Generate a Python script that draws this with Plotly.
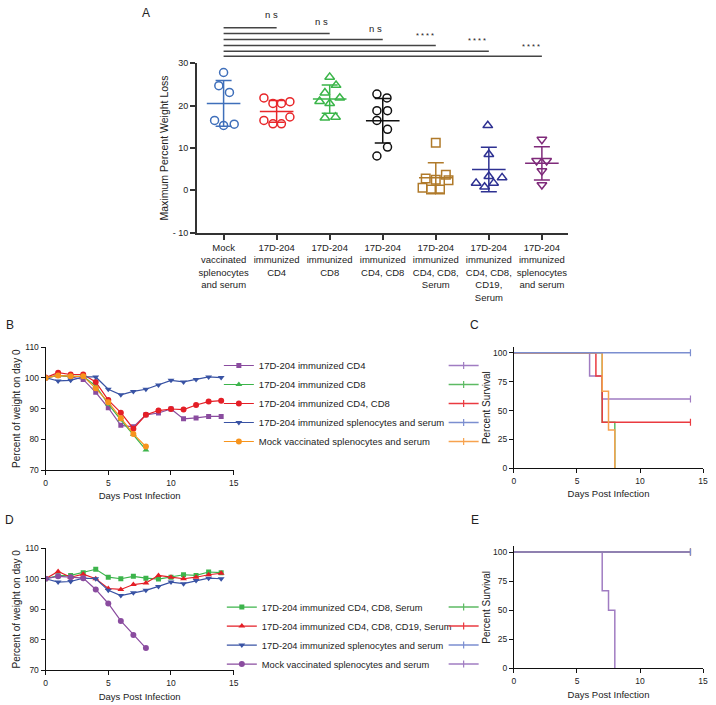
import plotly.graph_objects as go

FONT = "Liberation Sans, Arial, sans-serif"
TXT = "#222222"
W, H = 716, 705

# ---------------- Panel A data ----------------
A_categories = [
    "Mock<br>vaccinated<br>splenocytes<br>and serum",
    "17D-204<br>immunized<br>CD4",
    "17D-204<br>immunized<br>CD8",
    "17D-204<br>immunized<br>CD4, CD8",
    "17D-204<br>immunized<br>CD4, CD8,<br>Serum",
    "17D-204<br>immunized<br>CD4, CD8,<br>CD19,<br>Serum",
    "17D-204<br>immunized<br>splenocytes<br>and serum",
]
A_mock = [27.8, 24.7, 23.1, 16.5, 15.3, 15.6]
A_cd4 = [21.8, 20.5, 20.5, 20.9, 16.5, 15.7, 15.7, 17.3]
A_cd8 = [26.7, 24.8, 23.0, 21.0, 21.8, 20.5, 17.1, 17.3]
A_cd4_cd8 = [22.7, 21.8, 18.8, 18.8, 16.5, 14.4, 10.2, 8.1]
A_cd4_cd8_serum = [11.2, 2.8, 2.5, 3.7, 2.4, 0.6, 0.2, 0.2]
A_cd4_cd8_cd19_serum = [15.3, 8.5, 3.3, 3.0, 1.7, 1.7, 0.8]
A_spleno_serum = [12.0, 7.0, 7.0, 4.6, 1.3]
A_sig_labels = ["n s", "n s", "n s", "* * * *", "* * * *", "* * * *"]
A_yticks = [-10, 0, 10, 20, 30]
A_yticklabels = ["- 10", "0", "10", "20", "30"]

# ---------------- Panel B / D data (weight curves) ----------------
days = list(range(15))
B_cd4 = [100.0, 100.8, 100.3, 99.5, 95.3, 90.3, 84.6, 84.1, 88.0, 88.6, 89.9, 86.7, 87.0, 87.5, 87.5]
B_cd8 = [100.0, 100.8, 100.5, 100.5, 97.4, 91.5, 86.4, 81.6, 76.6]
B_cd4_cd8 = [100.1, 101.7, 101.1, 101.1, 98.7, 92.8, 88.7, 83.5, 88.0, 89.4, 89.9, 89.7, 91.2, 92.3, 92.6]
B_spleno = [100.1, 99.0, 99.2, 100.3, 100.3, 96.3, 94.5, 95.6, 96.3, 97.7, 99.2, 98.7, 99.5, 100.3, 100.1]
B_mock = [100.0, 100.8, 100.5, 100.5, 96.6, 92.1, 86.9, 81.8, 77.7]

D_serum = [100.0, 101.0, 101.1, 102.0, 103.1, 100.5, 100.0, 100.8, 100.2, 99.9, 100.5, 101.3, 101.1, 102.2, 102.0]
D_cd19 = [100.0, 102.4, 100.5, 101.5, 100.0, 96.8, 96.5, 98.1, 98.6, 101.1, 100.5, 100.0, 100.5, 101.3, 101.8]
D_spleno = [100.0, 98.9, 99.1, 100.2, 100.0, 96.2, 94.5, 95.4, 96.2, 97.5, 98.9, 98.4, 99.4, 100.2, 100.0]
D_mock = [100.0, 100.8, 100.5, 100.2, 96.5, 91.9, 86.2, 81.6, 77.3]

# ---------------- Panel C / E data (survival) ----------------
C_cd4_t, C_cd4_s = [0, 6, 7, 14], [100, 80, 60, 60]
C_cd8_t, C_cd8_s = [0, 7, 8], [100, 40, 0]
C_cd4_cd8_t, C_cd4_cd8_s = [0, 6.5, 7, 14], [100, 80, 40, 40]
C_spleno_t, C_spleno_s = [0, 14], [100, 100]
C_mock_t, C_mock_s = [0, 7, 7.5, 8], [100, 66.7, 33.3, 0]

E_serum_t, E_serum_s = [0, 14], [100, 100]
E_cd19_t, E_cd19_s = [0, 14], [100, 100]
E_spleno_t, E_spleno_s = [0, 14], [100, 100]
E_mock_t, E_mock_s = [0, 7, 7.5, 8], [100, 66.7, 50, 0]

# ---------------- styles ----------------
A_groups = [A_mock, A_cd4, A_cd8, A_cd4_cd8, A_cd4_cd8_serum, A_cd4_cd8_cd19_serum, A_spleno_serum]
A_colors = ["#3f6fba", "#e8272a", "#3bb54a", "#111111", "#b07a2a", "#2e3192", "#7f2a7a"]
A_symbols = ["circle-open", "circle-open", "triangle-up-open", "circle-open",
             "square-open", "triangle-up-open", "triangle-down-open"]
# horizontal scatter offsets (category units) for the dot layout
A_offsets = [
    [0.0, -0.09, 0.11, -0.17, 0.0, 0.2],
    [-0.24, -0.07, 0.09, 0.25, -0.24, -0.07, 0.09, 0.25],
    [0.0, 0.12, -0.09, -0.19, 0.19, 0.0, -0.09, 0.11],
    [-0.11, 0.08, -0.11, 0.09, -0.11, 0.09, 0.09, -0.11],
    [0.0, -0.19, 0.0, 0.19, 0.24, -0.25, -0.09, 0.08],
    [-0.02, 0.0, 0.0, 0.25, -0.24, 0.09, -0.08],
    [0.0, -0.1, 0.09, 0.0, 0.0],
]

PURPLE, GREEN, RED, BLUE, ORANGE = "#8a4c9f", "#3cb44b", "#e41e26", "#3953a4", "#f7941d"
SV_PURPLE, SV_GREEN, SV_RED, SV_BLUE, SV_ORANGE = "#a07cc2", "#5dba63", "#ea3a40", "#7b8ed0", "#f7a24e"


def mean_sd(v):
    m = sum(v) / len(v)
    sd = (sum((x - m) ** 2 for x in v) / (len(v) - 1)) ** 0.5
    return m, sd


fig = go.Figure()

# ---- Panel A ----
for i, (vals, col, sym, offs) in enumerate(zip(A_groups, A_colors, A_symbols, A_offsets)):
    m, sd = mean_sd(vals)
    fig.add_trace(go.Scatter(
        x=[i], y=[m], mode="markers", xaxis="x", yaxis="y", showlegend=False,
        marker=dict(symbol="line-ew", size=24, color=col, line=dict(color=col, width=1.5)),
        error_y=dict(type="data", array=[sd], visible=True, color=col, thickness=1.5, width=8),
        hoverinfo="skip"))
    fig.add_trace(go.Scatter(
        x=[i + o for o in offs], y=vals, mode="markers", xaxis="x", yaxis="y", showlegend=False,
        marker=dict(symbol=sym, size=8 if "circle" in sym else 8.5, color=col, line=dict(color=col, width=1.5))))

# ---- Panel B ----
b_series = [("17D-204 immunized CD4", B_cd4, PURPLE, "square", 5),
            ("17D-204 immunized CD8", B_cd8, GREEN, "triangle-up", 6),
            ("17D-204 immunized CD4, CD8", B_cd4_cd8, RED, "circle", 6),
            ("17D-204 immunized splenocytes and serum", B_spleno, BLUE, "triangle-down", 6),
            ("Mock vaccinated splenocytes and serum", B_mock, ORANGE, "circle", 6)]
for name, vals, col, sym, sz in b_series:
    fig.add_trace(go.Scatter(
        x=days[:len(vals)], y=vals, name=name, mode="lines+markers", xaxis="x2", yaxis="y2",
        legend="legend", line=dict(color=col, width=1.2), marker=dict(symbol=sym, size=sz, color=col)))

# ---- Panel D ----
d_series = [("17D-204 immunized CD4, CD8, Serum", D_serum, GREEN, "square", 5),
            ("17D-204 immunized CD4, CD8, CD19, Serum", D_cd19, RED, "triangle-up", 6),
            ("17D-204 immunized splenocytes and serum", D_spleno, BLUE, "triangle-down", 6),
            ("Mock vaccinated splenocytes and serum", D_mock, PURPLE, "circle", 6)]
for name, vals, col, sym, sz in d_series:
    fig.add_trace(go.Scatter(
        x=days[:len(vals)], y=vals, name=name, mode="lines+markers", xaxis="x4", yaxis="y4",
        legend="legend3", line=dict(color=col, width=1.2), marker=dict(symbol=sym, size=sz, color=col)))


def survival(t, s, col, xa, ya, leg, rank):
    fig.add_trace(go.Scatter(x=t, y=s, mode="lines", line=dict(color=col, width=1.5, shape="hv"),
                             xaxis=xa, yaxis=ya, showlegend=False))
    if t[-1] >= 14:
        fig.add_trace(go.Scatter(x=[t[-1]], y=[s[-1]], mode="markers", xaxis=xa, yaxis=ya, showlegend=False,
                                 marker=dict(symbol="line-ns", size=5, line=dict(color=col, width=1.2))))
    fig.add_trace(go.Scatter(x=[None], y=[None], mode="lines+markers", name=" ", legend=leg, legendrank=rank,
                             xaxis=xa, yaxis=ya, line=dict(color=col, width=1.5),
                             marker=dict(symbol="line-ns", size=5, line=dict(color=col, width=1.2))))


# ---- Panel C (blue drawn last so it sits on top at 100 %) ----
survival(C_cd4_t, C_cd4_s, SV_PURPLE, "x3", "y3", "legend2", 1)
survival(C_cd8_t, C_cd8_s, SV_GREEN, "x3", "y3", "legend2", 2)
survival(C_cd4_cd8_t, C_cd4_cd8_s, SV_RED, "x3", "y3", "legend2", 3)
survival(C_mock_t, C_mock_s, SV_ORANGE, "x3", "y3", "legend2", 5)
survival(C_spleno_t, C_spleno_s, SV_BLUE, "x3", "y3", "legend2", 4)

# ---- Panel E ----
survival(E_mock_t, E_mock_s, SV_PURPLE, "x5", "y5", "legend4", 4)
survival(E_serum_t, E_serum_s, SV_GREEN, "x5", "y5", "legend4", 1)
survival(E_cd19_t, E_cd19_s, SV_RED, "x5", "y5", "legend4", 2)
survival(E_spleno_t, E_spleno_s, SV_BLUE, "x5", "y5", "legend4", 3)


def px_x(px):
    return px / W


def px_y(py):
    return 1 - py / H


axis_common = dict(showgrid=False, zeroline=False, showline=True, ticks="outside")
tickf = dict(size=8.5, color=TXT, family=FONT)
lin = dict(linecolor="#111111", linewidth=1, tickcolor="#111111", ticklen=4, tickwidth=1, tickfont=tickf)

fig.update_layout(
    width=W, height=H, autosize=False, margin=dict(l=0, r=0, t=0, b=0),
    paper_bgcolor="white", plot_bgcolor="white", font=dict(family=FONT, color=TXT),
    xaxis=dict(domain=[px_x(197), px_x(572)], anchor="y", range=[-0.5, 6.5],
               tickvals=list(range(7)), ticktext=A_categories, linecolor="#333333", linewidth=2,
               tickcolor="#333333", tickwidth=1.5, ticklen=5, **axis_common,
               tickfont=dict(size=9.5, color=TXT, family=FONT)),
    yaxis=dict(domain=[px_y(231), px_y(59)], anchor="x", range=[-10, 30],
               tickvals=A_yticks, ticktext=A_yticklabels, linecolor="#333333", linewidth=2,
               tickcolor="#333333", tickwidth=1.5, ticklen=5,
               title=dict(text="Maximum Percent Weight Loss", font=dict(size=10.5), standoff=2),
               **axis_common, tickfont=dict(size=9, color=TXT, family=FONT)),
    xaxis2=dict(domain=[px_x(44), px_x(234)], anchor="y2", range=[0, 15], tickvals=[0, 5, 10, 15],
                title=dict(text="Days Post Infection", font=dict(size=9.5), standoff=5), **axis_common, **lin),
    yaxis2=dict(domain=[px_y(472), px_y(347)], anchor="x2", range=[70, 110], tickvals=[70, 80, 90, 100, 110],
                title=dict(text="Percent of weight on day 0", font=dict(size=10), standoff=2), **axis_common, **lin),
    xaxis3=dict(domain=[px_x(517), px_x(708)], anchor="y3", range=[0, 15], tickvals=[0, 5, 10, 15],
                title=dict(text="Days Post Infection", font=dict(size=9.5), standoff=5), **axis_common, **lin),
    yaxis3=dict(domain=[px_y(470), px_y(347)], anchor="x3", range=[0, 105], tickvals=[0, 25, 50, 75, 100],
                title=dict(text="Percent Survival", font=dict(size=10), standoff=0), **axis_common, **lin),
    xaxis4=dict(domain=[px_x(44), px_x(234)], anchor="y4", range=[0, 15], tickvals=[0, 5, 10, 15],
                title=dict(text="Days Post Infection", font=dict(size=9.5), standoff=6), **axis_common, **lin),
    yaxis4=dict(domain=[px_y(675), px_y(551)], anchor="x4", range=[70, 110], tickvals=[70, 80, 90, 100, 110],
                title=dict(text="Percent of weight on day 0", font=dict(size=10), standoff=2), **axis_common, **lin),
    xaxis5=dict(domain=[px_x(517), px_x(708)], anchor="y5", range=[0, 15], tickvals=[0, 5, 10, 15],
                title=dict(text="Days Post Infection", font=dict(size=9.5), standoff=6), **axis_common, **lin),
    yaxis5=dict(domain=[px_y(673), px_y(549)], anchor="x5", range=[0, 105], tickvals=[0, 25, 50, 75, 100],
                title=dict(text="Percent Survival", font=dict(size=10), standoff=0), **axis_common, **lin),
    legend=dict(x=px_x(219), y=px_y(351), xanchor="left", yanchor="top", bgcolor="rgba(0,0,0,0)",
                font=dict(size=9.5, color=TXT), tracegroupgap=0, itemwidth=30),
    legend2=dict(x=px_x(446), y=px_y(351), xanchor="left", yanchor="top", bgcolor="rgba(0,0,0,0)",
                 font=dict(size=9.5), tracegroupgap=0, itemwidth=30),
    legend3=dict(x=px_x(222), y=px_y(596), xanchor="left", yanchor="top", bgcolor="rgba(0,0,0,0)",
                 font=dict(size=9.3, color=TXT), tracegroupgap=0, itemwidth=30),
    legend4=dict(x=px_x(446), y=px_y(596), xanchor="left", yanchor="top", bgcolor="rgba(0,0,0,0)",
                 font=dict(size=9.5), tracegroupgap=0, itemwidth=30),
)

# significance bars in panel A
bar_px = [23, 29, 35, 41, 47, 52]
lab_px = [10, 17, 24, 31, 36.5, 42]
lab_x = [0.9, 1.85, 2.87, 3.8, 4.78, 5.8]
for k, (by, ly, lx, lab) in enumerate(zip(bar_px, lab_px, lab_x, A_sig_labels)):
    fig.add_shape(type="line", xref="x", yref="paper", x0=0, x1=k + 1, y0=px_y(by), y1=px_y(by),
                  line=dict(color="#444444", width=1.5))
    fig.add_annotation(text=lab, xref="x", yref="paper", x=lx, y=px_y(ly), showarrow=False,
                       font=dict(size=9.5 if lab == "n s" else 7.5, color=TXT), xanchor="center", yanchor="middle")

# panel letters
for letter, lx, ly in [("A", 145, 8), ("B", 8, 325), ("C", 477, 325), ("D", 8, 522), ("E", 478, 522)]:
    fig.add_annotation(text=letter, xref="paper", yref="paper", x=px_x(lx), y=px_y(ly), showarrow=False,
                       font=dict(size=12, color=TXT), xanchor="center", yanchor="middle")

fig.write_html("out.html", config={"displayModeBar": False},
               post_script="document.body.style.margin='0px';")
